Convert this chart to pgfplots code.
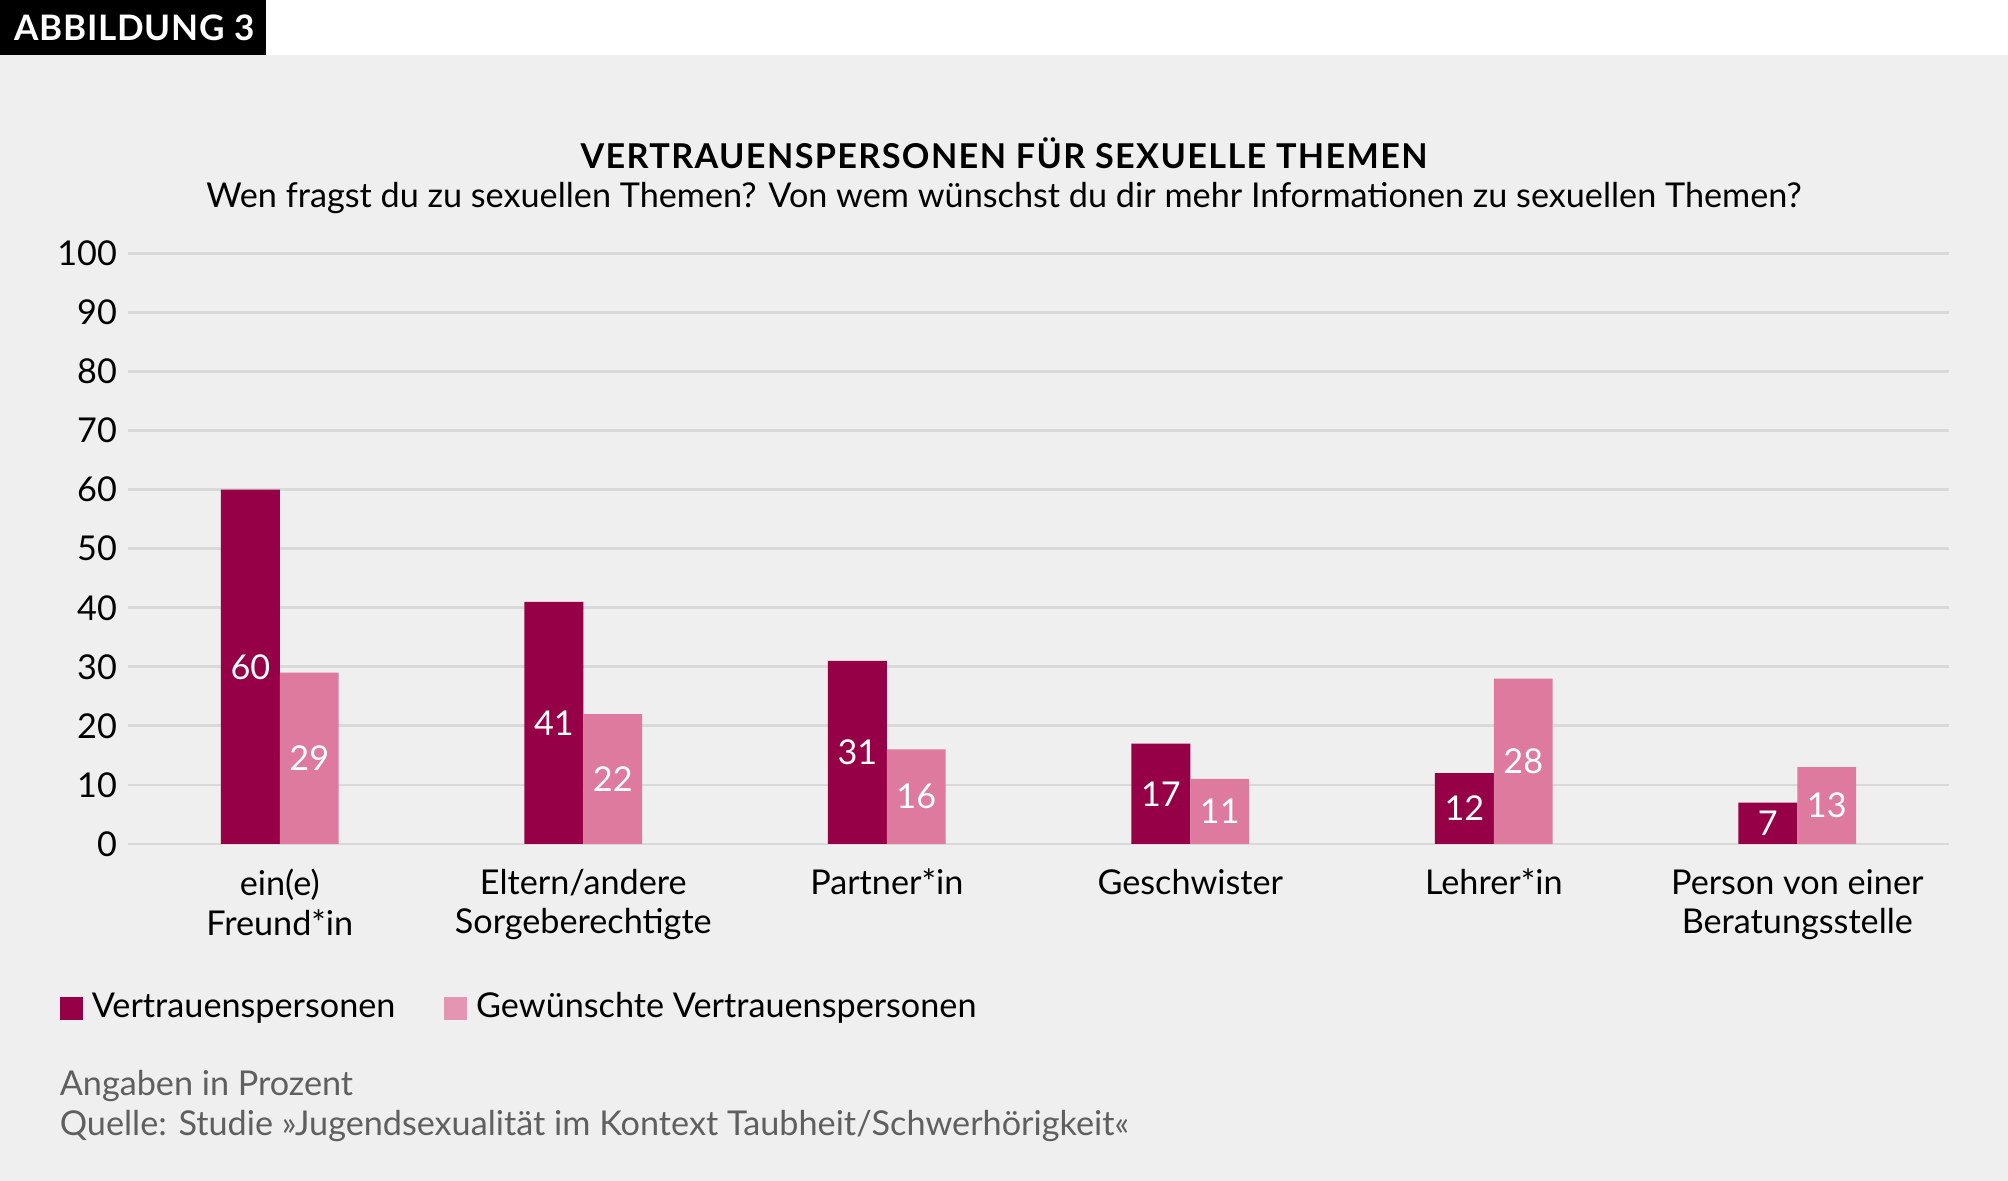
\documentclass[border=0pt]{standalone}
\usepackage{fontspec}
\setmainfont{Lato}
\usepackage{pgfplots}
\pgfplotsset{compat=1.18}
\usepackage{pgfplotstable}
\definecolor{dunkel}{RGB}{150,0,70}
\definecolor{hell}{RGB}{222,122,158}
\definecolor{hinter}{RGB}{239,239,239}
\definecolor{gitter}{RGB}{217,217,217}
\definecolor{fuss}{RGB}{95,95,95}
\newcommand{\txt}{\fontsize{7.6}{8.8}\selectfont}

% Angaben in Prozent
\pgfplotstableread{
x v w
0 60 29
1 41 22
2 31 16
3 17 11
4 12 28
5 7 13
}\daten

\begin{document}
\begin{tikzpicture}
\fill[white] (0,0) rectangle (15.68,9.22);
\fill[hinter] (0,0) rectangle (15.68,8.79);
\fill[black] (0,8.79) rectangle (2.08,9.22);
\node[text=white, font=\fontsize{7.8}{9}\selectfont\bfseries] at (1.05,9.005) {\addfontfeatures{LetterSpace=2}ABBILDUNG 3};
\node[font=\txt\bfseries] at (7.84,8.02) {\addfontfeatures{LetterSpace=4}VERTRAUENSPERSONEN FÜR SEXUELLE THEMEN};
\node[font=\txt] at (7.84,7.67) {Wen fragst du zu sexuellen Themen? Von wem wünschst du dir mehr Informationen zu sexuellen Themen?};

\begin{axis}[
    at={(1.00cm,2.63cm)}, anchor=south west,
    scale only axis, width=14.22cm, height=4.61cm,
    xmin=-0.5, xmax=5.5, ymin=0, ymax=100,
    ytick={0,10,...,100}, xtick={0,...,5},
    xticklabels={{ein(e)\\Freund*in}, {Eltern/andere\\Sorgeberechtigte}, {Partner*in}, {Geschwister}, {Lehrer*in}, {Person von einer\\Beratungsstelle}},
    axis line style={draw=none},
    major tick length=0pt,
    ymajorgrids, grid style={gitter, line width=0.6pt},
    tick label style={font=\txt},
    /pgf/number format/assume math mode=true,
    xticklabel style={align=center, anchor=north, inner sep=0pt, yshift=-0.19cm},
    yticklabel style={anchor=east, inner sep=0pt, xshift=-0.08cm},
    legend style={at={(axis description cs:-0.038,-0.279)}, anchor=west, draw=none, fill=none,
        inner sep=0pt, font=\txt, legend columns=2,
        /tikz/every even column/.append style={column sep=0.31cm}, cells={anchor=west}},
]
\addplot[ybar, bar width=0.46cm, bar shift=-0.23cm, fill=dunkel, draw=none,
    legend image code/.code={\fill[dunkel] (0cm,-0.09cm) rectangle (0.18cm,0.09cm);}]
    table[x=x, y=v]{\daten};
\addplot[ybar, bar width=0.46cm, bar shift=0.23cm, fill=hell, draw=none,
    legend image code/.code={\fill[hell!80!white] (0cm,-0.09cm) rectangle (0.18cm,0.09cm);}]
    table[x=x, y=w]{\daten};
\legend{Vertrauenspersonen, Gewünschte Vertrauenspersonen}

% Werte in der Mitte der Balken
\addplot[forget plot, only marks, mark=*, mark size=0pt, mark options={draw=none, fill=none},
    point meta=explicit, nodes near coords,
    every node near coord/.style={anchor=center, text=white, font=\txt, xshift=-0.23cm}]
    table[x=x, y expr=\thisrow{v}/2, meta=v]{\daten};
\addplot[forget plot, only marks, mark=*, mark size=0pt, mark options={draw=none, fill=none},
    point meta=explicit, nodes near coords,
    every node near coord/.style={anchor=center, text=white, font=\txt, xshift=0.23cm}]
    table[x=x, y expr=\thisrow{w}/2, meta=w]{\daten};
\end{axis}

\node[anchor=west, text=fuss, font=\txt, inner sep=0pt] at (0.46,0.74) {Angaben in Prozent};
\node[anchor=west, text=fuss, font=\txt, inner sep=0pt] at (0.46,0.43) {Quelle: Studie »Jugendsexualität im Kontext Taubheit/Schwerhörigkeit«};
\pgfresetboundingbox
\path (0,0) rectangle (15.68,9.22);
\end{tikzpicture}
\end{document}
